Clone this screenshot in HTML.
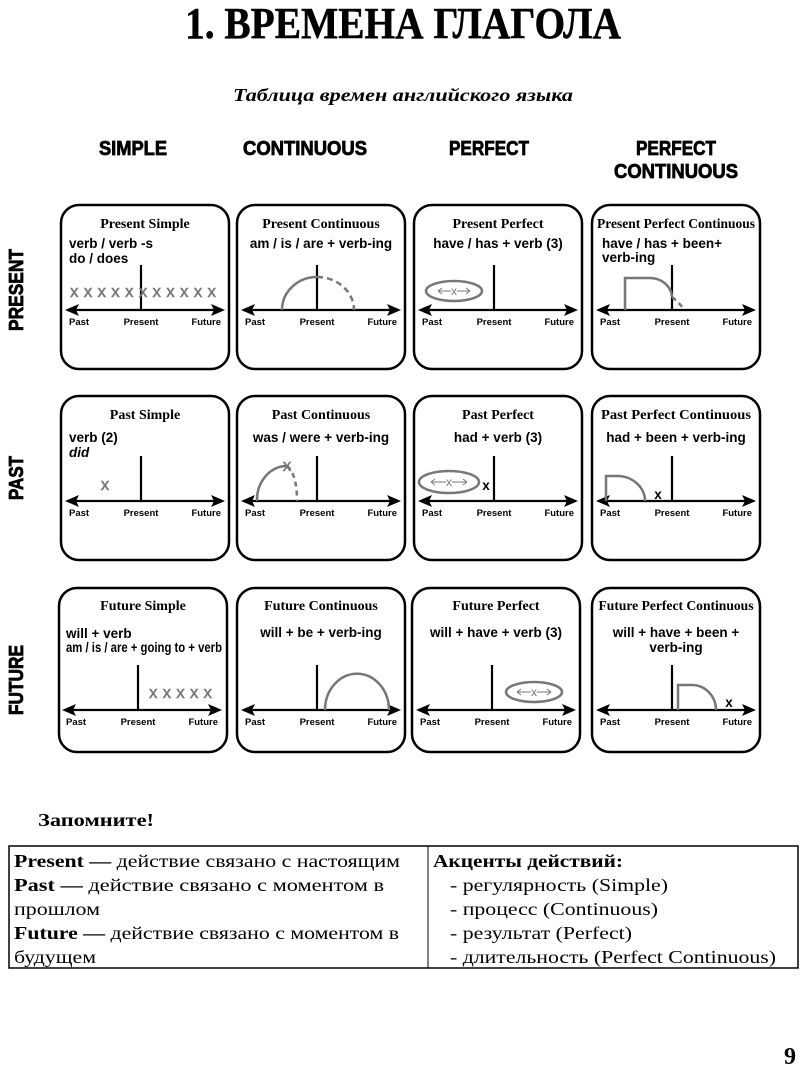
<!DOCTYPE html>
<html><head><meta charset="utf-8"><style>
html,body{margin:0;padding:0;background:#fff;}
svg{display:block;}
.t{font-family:"Liberation Serif",serif;font-weight:bold;font-size:14px;text-anchor:middle;}
.f{font-family:"Liberation Sans",sans-serif;font-weight:bold;font-size:13.5px;}
.l{font-family:"Liberation Sans",sans-serif;font-weight:bold;font-size:9.5px;}
.g{stroke:#777;stroke-width:2.5;fill:none;}
.gx{font-family:"Liberation Sans",sans-serif;font-size:17px;fill:#777;stroke:#777;stroke-width:0.5;}
.h{font-family:"Liberation Sans",sans-serif;font-weight:bold;font-size:20px;text-anchor:middle;stroke:#000;stroke-width:0.8;}
.s{font-family:"Liberation Serif",serif;font-size:18px;}
</style></head><body>
<svg width="806" height="1072" viewBox="0 0 806 1072" xmlns="http://www.w3.org/2000/svg">
<defs>
<g id="ax">
<line x1="12" y1="105" x2="156" y2="105" stroke="#000" stroke-width="2.2"/>
<polygon points="4,105 18,99 15,105 18,111" fill="#000"/>
<polygon points="164,105 150,99 153,105 150,111" fill="#000"/>
<line x1="80" y1="60" x2="80" y2="105" stroke="#000" stroke-width="2.2"/>
<text class="l" x="8" y="120">Past</text>
<text class="l" x="80" y="120" text-anchor="middle">Present</text>
<text class="l" x="160" y="120" text-anchor="end">Future</text>
</g>
<rect id="fr" x="0" y="0" width="168" height="164" rx="18" fill="none" stroke="#000" stroke-width="2.5"/>
</defs>

<text x="403" y="38" text-anchor="middle" font-family="Liberation Serif,serif" font-weight="bold" font-size="44" stroke="#000" stroke-width="0.5" textLength="436" lengthAdjust="spacingAndGlyphs">1. ВРЕМЕНА ГЛАГОЛА</text>
<text x="403" y="101" text-anchor="middle" font-family="Liberation Serif,serif" font-weight="bold" font-style="italic" font-size="18" textLength="340" lengthAdjust="spacingAndGlyphs">Таблица времен английского языка</text>

<text class="h" x="133" y="155" textLength="68" lengthAdjust="spacingAndGlyphs">SIMPLE</text>
<text class="h" x="305" y="155" textLength="124" lengthAdjust="spacingAndGlyphs">CONTINUOUS</text>
<text class="h" x="489" y="155" textLength="80" lengthAdjust="spacingAndGlyphs">PERFECT</text>
<text class="h" x="676" y="155" textLength="80" lengthAdjust="spacingAndGlyphs">PERFECT</text>
<text class="h" x="676" y="178" textLength="124" lengthAdjust="spacingAndGlyphs">CONTINUOUS</text>

<text class="h" transform="translate(23,290) rotate(-90)" textLength="82" lengthAdjust="spacingAndGlyphs">PRESENT</text>
<text class="h" transform="translate(23,478) rotate(-90)" textLength="44" lengthAdjust="spacingAndGlyphs">PAST</text>
<text class="h" transform="translate(23,680) rotate(-90)" textLength="70" lengthAdjust="spacingAndGlyphs">FUTURE</text>

<!-- ROW 1 -->
<g transform="translate(61,205)">
<use href="#fr"/><text class="t" x="84" y="23">Present Simple</text>
<text class="f" x="8" y="43">verb / verb -s</text><text class="f" x="8" y="58">do / does</text>
<use href="#ax"/>
<text class="gx" x="9" y="92" textLength="146" lengthAdjust="spacing">xxxxxxxxxxx</text>
</g>
<g transform="translate(237,205)">
<use href="#fr"/><text class="t" x="84" y="23">Present Continuous</text>
<text class="f" x="84" y="43" text-anchor="middle">am / is / are + verb-ing</text>
<use href="#ax"/>
<path class="g" d="M45 105 A35 33 0 0 1 80 72"/>
<path class="g" d="M80 72 A37 33 0 0 1 117 105" stroke-dasharray="6,4"/>
</g>
<g transform="translate(414,205)">
<use href="#fr"/><text class="t" x="84" y="23">Present Perfect</text>
<text class="f" x="84" y="43" text-anchor="middle">have / has + verb (3)</text>
<use href="#ax"/>
<ellipse class="g" cx="40" cy="86" rx="28" ry="10"/>
<path d="M24 86 H56 M24 86 l4 -3 M24 86 l4 3 M56 86 l-4 -3 M56 86 l-4 3" stroke="#777" stroke-width="1"/>
<text x="40" y="90" text-anchor="middle" font-family="Liberation Sans,sans-serif" font-size="12" fill="#777" style="paint-order:stroke" stroke="#fff" stroke-width="3">x</text>
</g>
<g transform="translate(592,205)">
<use href="#fr"/><text class="t" x="84" y="23" textLength="158" lengthAdjust="spacingAndGlyphs">Present Perfect Continuous</text>
<text class="f" x="10" y="43">have / has + been+</text><text class="f" x="10" y="57">verb-ing</text>
<use href="#ax"/>
<path class="g" d="M33 105 V73 H58 A22 20 0 0 1 80 92"/>
<path class="g" d="M80 92 Q88 98 92 105" stroke-dasharray="5,4"/>
</g>

<!-- ROW 2 -->
<g transform="translate(61,396)">
<use href="#fr"/><text class="t" x="84" y="23">Past Simple</text>
<text class="f" x="8" y="46">verb (2)</text><text class="f" x="8" y="61" font-style="italic">did</text>
<use href="#ax"/>
<text class="gx" x="44" y="94" text-anchor="middle" font-size="15">x</text>
</g>
<g transform="translate(237,396)">
<use href="#fr"/><text class="t" x="84" y="23">Past Continuous</text>
<text class="f" x="84" y="46" text-anchor="middle">was / were + verb-ing</text>
<use href="#ax"/>
<path class="g" d="M20 105 A30 34 0 0 1 50 70"/>
<path class="g" d="M50 70 Q60 78 60 105" stroke-dasharray="5,4"/>
<text class="gx" x="50" y="75" text-anchor="middle" font-size="13">x</text>
</g>
<g transform="translate(414,396)">
<use href="#fr"/><text class="t" x="84" y="23">Past Perfect</text>
<text class="f" x="84" y="46" text-anchor="middle">had + verb (3)</text>
<use href="#ax"/>
<ellipse class="g" cx="35" cy="86" rx="30" ry="11"/>
<path d="M17 86 H53 M17 86 l4 -3 M17 86 l4 3 M53 86 l-4 -3 M53 86 l-4 3" stroke="#777" stroke-width="1"/>
<text x="35" y="90" text-anchor="middle" font-family="Liberation Sans,sans-serif" font-size="12" fill="#777" style="paint-order:stroke" stroke="#fff" stroke-width="3">x</text>
<text class="f" x="72" y="94" text-anchor="middle" font-size="16">x</text>
</g>
<g transform="translate(592,396)">
<use href="#fr"/><text class="t" x="84" y="23" textLength="150" lengthAdjust="spacingAndGlyphs">Past Perfect Continuous</text>
<text class="f" x="84" y="46" text-anchor="middle">had + been + verb-ing</text>
<use href="#ax"/>
<path class="g" d="M14 105 V80 H27 A28 25 0 0 1 53 105"/>
<text class="f" x="66" y="103" text-anchor="middle" font-size="16">x</text>
</g>

<!-- ROW 3 -->
<g transform="translate(58,588)">
<use href="#fr" transform="translate(1,0)"/><text class="t" x="85" y="22">Future Simple</text>
<text class="f" x="8" y="50" font-size="15">will + verb</text>
<text class="f" x="8" y="64" font-size="10.5" textLength="156" lengthAdjust="spacingAndGlyphs">am / is / are + going to + verb</text>
<g transform="translate(0,17)"><use href="#ax"/>
<text class="gx" x="91" y="93" textLength="63" lengthAdjust="spacing">xxxxx</text></g>
</g>
<g transform="translate(237,588)">
<use href="#fr"/><text class="t" x="84" y="22">Future Continuous</text>
<text class="f" x="84" y="49" text-anchor="middle" font-size="15">will + be + verb-ing</text>
<g transform="translate(0,17)"><use href="#ax"/>
<path class="g" d="M88 105 A30 34 0 0 1 152 105"/></g>
</g>
<g transform="translate(412,588)">
<use href="#fr"/><text class="t" x="84" y="22">Future Perfect</text>
<text class="f" x="84" y="49" text-anchor="middle" font-size="14.5">will + have + verb (3)</text>
<g transform="translate(0,17)"><use href="#ax"/>
<ellipse class="g" cx="122" cy="87" rx="28" ry="10"/>
<path d="M105 87 H139 M105 87 l4 -3 M105 87 l4 3 M139 87 l-4 -3 M139 87 l-4 3" stroke="#777" stroke-width="1"/>
<text x="122" y="91" text-anchor="middle" font-family="Liberation Sans,sans-serif" font-size="12" fill="#777" style="paint-order:stroke" stroke="#fff" stroke-width="3">x</text></g>
</g>
<g transform="translate(592,588)">
<use href="#fr"/><text class="t" x="84" y="22" textLength="155" lengthAdjust="spacingAndGlyphs">Future Perfect Continuous</text>
<text class="f" x="84" y="49" text-anchor="middle">will + have + been +</text>
<text class="f" x="84" y="64" text-anchor="middle">verb-ing</text>
<g transform="translate(0,17)"><use href="#ax"/>
<path class="g" d="M86 105 V80 H100 A24 25 0 0 1 124 105"/>
<text class="f" x="137" y="102" text-anchor="middle" font-size="16">x</text></g>
</g>

<!-- Bottom -->
<text x="38" y="826" font-family="Liberation Serif,serif" font-weight="bold" font-size="18" textLength="116" lengthAdjust="spacingAndGlyphs">Запомните!</text>
<rect x="9" y="846" width="789" height="122" fill="none" stroke="#000" stroke-width="1.5"/>
<line x1="428" y1="846" x2="428" y2="968" stroke="#000" stroke-width="1"/>
<text class="s" x="14" y="867" textLength="386" lengthAdjust="spacingAndGlyphs"><tspan font-weight="bold">Present —</tspan> действие связано с настоящим</text>
<text class="s" x="14" y="891" textLength="370" lengthAdjust="spacingAndGlyphs"><tspan font-weight="bold">Past —</tspan> действие связано с моментом в</text>
<text class="s" x="14" y="915" textLength="86" lengthAdjust="spacingAndGlyphs">прошлом</text>
<text class="s" x="14" y="939" textLength="385" lengthAdjust="spacingAndGlyphs"><tspan font-weight="bold">Future —</tspan> действие связано с моментом в</text>
<text class="s" x="14" y="963" textLength="82" lengthAdjust="spacingAndGlyphs">будущем</text>
<text class="s" x="433" y="867" font-weight="bold" textLength="190" lengthAdjust="spacingAndGlyphs">Акценты действий:</text>
<text class="s" x="450" y="891" textLength="218" lengthAdjust="spacingAndGlyphs">- регулярность (Simple)</text>
<text class="s" x="450" y="915" textLength="208" lengthAdjust="spacingAndGlyphs">- процесс (Continuous)</text>
<text class="s" x="450" y="939" textLength="182" lengthAdjust="spacingAndGlyphs">- результат (Perfect)</text>
<text class="s" x="450" y="963" textLength="326" lengthAdjust="spacingAndGlyphs">- длительность (Perfect Continuous)</text>
<text x="790" y="1064" text-anchor="middle" font-family="Liberation Serif,serif" font-weight="bold" font-size="24">9</text>
</svg>
</body></html>
